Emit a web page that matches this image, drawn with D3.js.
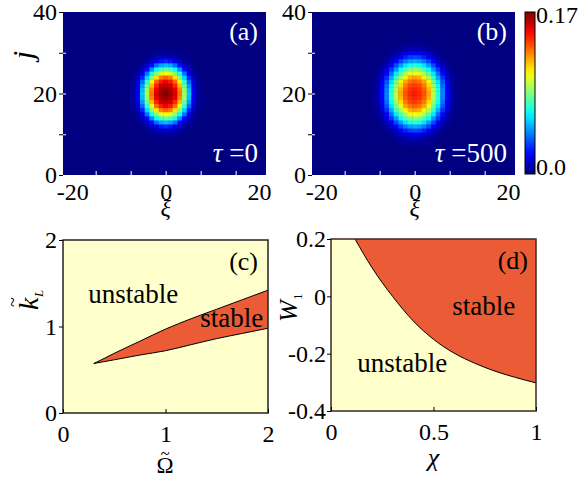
<!DOCTYPE html>
<html>
<head>
<meta charset="utf-8">
<script src="https://cdn.jsdelivr.net/npm/d3@7"></script>
</head>
<body style="margin:0;background:#fff">
<div id="chart"></div>
<script>
// ---- data ----
// heat maps: relative density vs radius (in xi units) from the centre (xi=0, j=20)
const radiusSteps = [0, 1, 2, 3, 4, 5, 6, 7, 8, 9, 10, 11];
const profileA = [1, 0.97, 0.91, 0.76, 0.54, 0.32, 0.11, 0.03, 0.005, 0, 0, 0];
const peakA = 0.17;
const profileB = [1, 0.98, 0.93, 0.83, 0.66, 0.49, 0.3, 0.15, 0.05, 0.015, 0.002, 0];
const peakB = 0.145;
const jStretch = 0.72;       // blob is taller than wide
const colorMax = 0.17;
const jCenter = 20;
const xiTicks = [-20, -15, -7.5, 0, 7.5, 15, 20];
const xiLabels = [-20, 0, 20];
const jTicks = [0, 10, 20, 30, 40];
const jLabels = [0, 20, 40];

// (c) stability region boundaries
const omegaUpper = [0.30, 0.40, 0.50, 0.75, 1.00, 1.25, 1.50, 1.75, 2.00];
const kUpper = [0.572, 0.63, 0.69, 0.83, 0.97, 1.09, 1.20, 1.31, 1.42];
const omegaLower = [0.30, 0.50, 0.75, 1.00, 1.25, 1.50, 1.75, 2.00];
const kLower = [0.572, 0.615, 0.67, 0.72, 0.79, 0.86, 0.92, 0.98];
const omegaTicks = [0, 1, 2];
const kTicks = [0, 1, 2];

// (d) stability boundary
const chiBound = [0.117, 0.2, 0.3, 0.4, 0.5, 0.6, 0.7, 0.8, 0.9, 1.0];
const wBound = [0.2, 0.1, 0.0, -0.085, -0.15, -0.198, -0.233, -0.261, -0.283, -0.302];
const chiTicks = [0, 0.5, 1];
const wTicks = [0.2, 0, -0.2, -0.4];

const yellow = '#ffffcc';
const red = '#ea5b36';
const fontSize = 24;
const serif = "'Liberation Serif', serif";

const svg = d3.select('#chart').append('svg')
  .attr('width', 580).attr('height', 478)
  .style('display', 'block');

// jet colour map
function jet(t) {
  t = Math.max(0, Math.min(1, t));
  const c = v => Math.round(255 * Math.max(0, Math.min(1, v)));
  return `rgb(${c(1.5 - Math.abs(4 * t - 3))},${c(1.5 - Math.abs(4 * t - 2))},${c(1.5 - Math.abs(4 * t - 1))})`;
}

function styleAxis(g, color) {
  g.select('.domain').remove();
  g.selectAll('line').attr('stroke', color || '#000');
  g.selectAll('text').attr('font-size', fontSize).attr('fill', '#000');
}

// ---- heat map panels ----
function heatPanel(left, profile, peak, tag, tauText, id) {
  const box = { x: left, y: 12, w: 203, h: 163 };
  const x = d3.scaleLinear().domain([-22, 21.5]).range([box.x, box.x + box.w]);
  const y = d3.scaleLinear().domain([0, 40]).range([box.y + box.h, box.y]);
  const radial = d3.scaleLinear().domain(radiusSteps).range(profile).clamp(true);

  svg.append('clipPath').attr('id', id)
    .append('rect').attr('x', box.x).attr('y', box.y).attr('width', box.w).attr('height', box.h);

  const cells = [];
  for (let j = 0; j <= 40; j++) {
    for (let xi = -22; xi <= 22; xi++) {
      const r = Math.hypot(xi, (j - jCenter) * jStretch);
      cells.push({ xi, j, v: peak * radial(r) });
    }
  }
  const g = svg.append('g').attr('clip-path', `url(#${id})`);
  g.append('rect').attr('x', box.x).attr('y', box.y).attr('width', box.w).attr('height', box.h)
    .attr('fill', jet(0));
  g.selectAll('rect.cell').data(cells.filter(d => d.v > 0.0003)).join('rect')
    .attr('class', 'cell')
    .attr('x', d => x(d.xi - 0.5))
    .attr('y', d => y(d.j + 0.5))
    .attr('width', x(1) - x(0) + 0.4)
    .attr('height', y(0) - y(1) + 0.4)
    .attr('fill', d => jet(d.v / colorMax));

  // x axis: ticks pointing inward (white)
  const ax = svg.append('g').attr('transform', `translate(0,${box.y + box.h})`)
    .call(d3.axisBottom(x).tickValues(xiTicks).tickSizeInner(-4).tickSizeOuter(0).tickPadding(8)
      .tickFormat(d => (xiLabels.includes(d) ? String(d) : '')));
  styleAxis(ax, '#fff');
  ax.selectAll('.tick').filter(d => Math.abs(d) === 20).select('line').remove();

  // y axis: outward black ticks, inward white ticks
  const ay = svg.append('g').attr('transform', `translate(${box.x},0)`)
    .call(d3.axisLeft(y).tickValues(jTicks).tickSizeInner(4).tickSizeOuter(0).tickPadding(2)
      .tickFormat(d => (jLabels.includes(d) ? d : '')));
  styleAxis(ay, '#000');
  const ay2 = svg.append('g').attr('transform', `translate(${box.x},0)`)
    .call(d3.axisRight(y).tickValues([10, 20, 30]).tickSizeInner(3).tickSizeOuter(0).tickFormat(''));
  styleAxis(ay2, '#fff');

  svg.append('text').attr('x', box.x + box.w - 8).attr('y', box.y + 28)
    .attr('text-anchor', 'end').attr('font-size', 26).attr('fill', '#fff').text(tag);
  const t = svg.append('text').attr('x', box.x + box.w - 8).attr('y', box.y + box.h - 13)
    .attr('text-anchor', 'end').attr('font-size', 27).attr('fill', '#fff');
  t.append('tspan').attr('font-style', 'italic').text('τ');
  t.append('tspan').text(' =' + tauText);

  // xi label
  svg.append('text').attr('x', x(0)).attr('y', 216).attr('text-anchor', 'middle')
    .attr('font-size', 24).attr('font-style', 'italic').text('ξ');
}

heatPanel(63, profileA, peakA, '(a)', '0', 'clipA');
heatPanel(312, profileB, peakB, '(b)', '500', 'clipB');

// j label
svg.append('text').attr('transform', 'translate(33,55) rotate(-90)')
  .attr('text-anchor', 'middle').attr('font-size', 30).attr('font-style', 'italic').text('j');

// colour bar
const cb = { x: 525, y: 12, w: 10, h: 162 };
const grad = svg.append('defs').append('linearGradient').attr('id', 'jetGrad')
  .attr('x1', 0).attr('y1', 1).attr('x2', 0).attr('y2', 0);
d3.range(0, 1.0001, 0.05).forEach(t => {
  grad.append('stop').attr('offset', t).attr('stop-color', jet(t));
});
svg.append('rect').attr('x', cb.x).attr('y', cb.y).attr('width', cb.w).attr('height', cb.h)
  .attr('fill', 'url(#jetGrad)').attr('stroke', '#000').attr('stroke-width', 1);
const cbScale = d3.scaleLinear().domain([0, colorMax]).range([cb.y + cb.h, cb.y]);
svg.append('text').attr('x', cb.x + cb.w + 1).attr('y', cbScale(colorMax) + 11)
  .attr('font-size', fontSize).text('0.17');
svg.append('text').attr('x', cb.x + cb.w + 1).attr('y', cbScale(0) + 1)
  .attr('font-size', fontSize).text('0.0');

// ---- (c) ----
{
  const box = { x: 63, y: 240, w: 205, h: 173 };
  const x = d3.scaleLinear().domain([0, 2]).range([box.x, box.x + box.w]);
  const y = d3.scaleLinear().domain([0, 2]).range([box.y + box.h, box.y]);
  svg.append('rect').attr('x', box.x).attr('y', box.y).attr('width', box.w).attr('height', box.h)
    .attr('fill', yellow);
  const upper = omegaUpper.map((o, i) => [o, kUpper[i]]);
  const lower = omegaLower.map((o, i) => [o, kLower[i]]);
  const line = d3.line().x(d => x(d[0])).y(d => y(d[1])).curve(d3.curveMonotoneX);
  // fill between the two boundary curves
  const path = line(upper) + 'L' + line(lower.slice().reverse()).slice(1) + 'Z';
  svg.append('path').attr('d', path).attr('fill', red).attr('stroke', 'none');
  svg.append('path').attr('d', line(upper)).attr('fill', 'none').attr('stroke', '#000').attr('stroke-width', 1);
  svg.append('path').attr('d', line(lower)).attr('fill', 'none').attr('stroke', '#000').attr('stroke-width', 1);
  svg.append('rect').attr('x', box.x).attr('y', box.y).attr('width', box.w).attr('height', box.h)
    .attr('fill', 'none').attr('stroke', '#222').attr('stroke-width', 1.5);

  const ax = svg.append('g').attr('transform', `translate(0,${box.y + box.h})`)
    .call(d3.axisBottom(x).tickValues(omegaTicks).tickSizeInner(-4).tickSizeOuter(0).tickPadding(12).tickFormat(d3.format('d')));
  styleAxis(ax);
  const ay = svg.append('g').attr('transform', `translate(${box.x},0)`)
    .call(d3.axisLeft(y).tickValues(kTicks).tickSizeInner(4).tickSizeOuter(0).tickPadding(2).tickFormat(d3.format('d')));
  styleAxis(ay);

  svg.append('text').attr('x', box.x + box.w - 10).attr('y', box.y + 30)
    .attr('text-anchor', 'end').attr('font-size', 26).text('(c)');
  svg.append('text').attr('x', x(0.247)).attr('y', y(1.27)).attr('font-size', 27).text('unstable');
  svg.append('text').attr('x', x(1.34)).attr('y', y(1.0)).attr('font-size', 27).text('stable');

  // Omega-tilde label
  svg.append('text').attr('x', x(0.995)).attr('y', 473).attr('text-anchor', 'middle')
    .attr('font-size', 23).text('Ω');
  svg.append('text').attr('x', x(0.995)).attr('y', 459).attr('text-anchor', 'middle')
    .attr('font-size', 17).text('~');

  // k-tilde_L label
  const kl = svg.append('g').attr('transform', 'translate(38,310) rotate(-90)');
  kl.append('text').attr('x', 0).attr('y', 0).attr('font-size', 28).attr('font-style', 'italic').text('k');
  kl.append('text').attr('x', 3).attr('y', -19).attr('font-size', 18).text('~');
  kl.append('text').attr('x', 13).attr('y', 5).attr('font-size', 13).attr('font-style', 'italic').text('L');
}

// ---- (d) ----
{
  const box = { x: 331, y: 239, w: 205, h: 172 };
  const x = d3.scaleLinear().domain([0, 1]).range([box.x, box.x + box.w]);
  const y = d3.scaleLinear().domain([-0.4, 0.2]).range([box.y + box.h, box.y]);
  svg.append('rect').attr('x', box.x).attr('y', box.y).attr('width', box.w).attr('height', box.h)
    .attr('fill', yellow);
  const pts = chiBound.map((c, i) => [c, wBound[i]]);
  const area = d3.area().x(d => x(d[0])).y0(y(0.2)).y1(d => y(d[1])).curve(d3.curveMonotoneX);
  svg.append('path').attr('d', area(pts)).attr('fill', red);
  svg.append('path').attr('d', d3.line().x(d => x(d[0])).y(d => y(d[1])).curve(d3.curveMonotoneX)(pts))
    .attr('fill', 'none').attr('stroke', '#000').attr('stroke-width', 1);
  svg.append('rect').attr('x', box.x).attr('y', box.y).attr('width', box.w).attr('height', box.h)
    .attr('fill', 'none').attr('stroke', '#3a2a20').attr('stroke-width', 1.5);

  const ax = svg.append('g').attr('transform', `translate(0,${box.y + box.h})`)
    .call(d3.axisBottom(x).tickValues(chiTicks).tickSizeInner(-4).tickSizeOuter(0).tickPadding(12)
      .tickFormat(d => (d === 0 || d === 1 ? String(d) : d3.format('.1f')(d))));
  styleAxis(ax);
  const ay = svg.append('g').attr('transform', `translate(${box.x},0)`)
    .call(d3.axisLeft(y).tickValues(wTicks).tickSizeInner(4).tickSizeOuter(0).tickPadding(1)
      .tickFormat(d => (d === 0 ? '0' : d3.format('.1f')(d).replace('−', '-'))));
  styleAxis(ay);

  svg.append('text').attr('x', box.x + box.w - 8).attr('y', box.y + 30)
    .attr('text-anchor', 'end').attr('font-size', 26).text('(d)');
  svg.append('text').attr('x', x(0.128)).attr('y', y(-0.264)).attr('font-size', 27).text('unstable');
  svg.append('text').attr('x', x(0.592)).attr('y', y(-0.066)).attr('font-size', 27).text('stable');

  svg.append('text').attr('x', x(0.5)).attr('y', 466).attr('text-anchor', 'middle')
    .attr('font-size', 26).attr('font-style', 'italic').text('χ');
  const wl = svg.append('g').attr('transform', 'translate(297,322) rotate(-90)');
  wl.append('text').attr('font-size', 26).attr('font-style', 'italic').text('W');
  wl.append('text').attr('x', 22).attr('y', 5).attr('font-size', 13).text('1');
}

// serif everywhere (inline style wins over the axis defaults)
svg.selectAll('text').style('font-family', serif);
svg.selectAll('g').attr('font-family', null);
</script>
</body>
</html>
